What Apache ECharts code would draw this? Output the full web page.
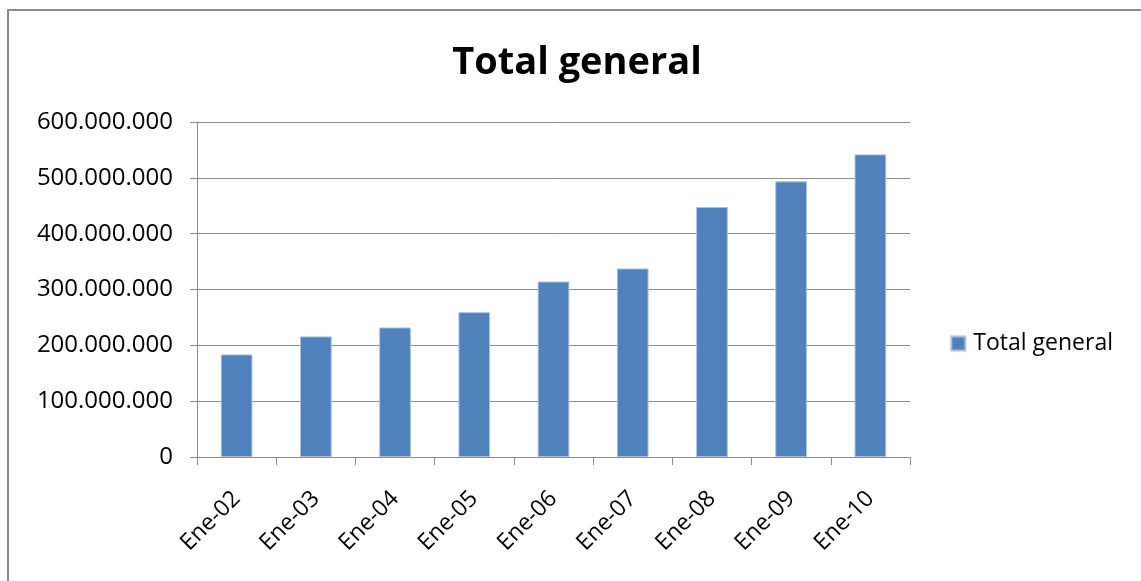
<!DOCTYPE html>
<html>
<head>
<meta charset="utf-8">
<script src="https://cdn.jsdelivr.net/npm/echarts@6/dist/echarts.min.js"></script>
<style>html,body{margin:0;padding:0;background:#fff}#c{width:1141px;height:581px}</style>
</head>
<body>
<div id="c"></div>
<script>
const categories = ['Ene-02','Ene-03','Ene-04','Ene-05','Ene-06','Ene-07','Ene-08','Ene-09','Ene-10'];
const totalGeneral = [183700000, 216000000, 232000000, 259400000, 314300000, 337600000, 447800000, 493700000, 542000000];
const seriesName = 'Total general';
const titleText = 'Total general';

const fontFam = '"Open Sans", "Noto Sans", sans-serif';
function fmt(v){ return String(Math.round(v)).replace(/\B(?=(\d{3})+(?!\d))/g, '.'); }

const chart = echarts.init(document.getElementById('c'), null, {renderer:'canvas'});
chart.setOption({
  backgroundColor:'#fff',
  animation:false,
  title:{ text:titleText, left:572, textAlign:'center', top:39,
    textStyle:{ fontFamily:fontFam, fontWeight:'bold', fontSize:38, color:'#000' } },
  legend:{ right:23, top:327, orient:'vertical', itemWidth:14, itemHeight:14, itemGap:8,
    icon:'rect', textStyle:{ fontFamily:fontFam, fontSize:23, color:'#000', padding:[0,0,0,3] }, data:[seriesName] },
  grid:{ left:197, right:231, top:122, bottom:124, containLabel:false },
  xAxis:{ type:'category', data:categories, boundaryGap:true,
    axisLine:{ lineStyle:{ color:'#8c8c8c', width:1 } },
    axisTick:{ show:true, length:8, alignWithLabel:false, lineStyle:{ color:'#8c8c8c' } },
    axisLabel:{ rotate:45, margin:38, fontFamily:fontFam, fontSize:23, color:'#000' } },
  yAxis:{ type:'value', min:0, max:600000000, interval:100000000,
    axisLine:{ show:true, lineStyle:{ color:'#8c8c8c', width:1 } },
    axisTick:{ show:true, length:7, lineStyle:{ color:'#8c8c8c' } },
    splitLine:{ lineStyle:{ color:'#8c8c8c', width:1 } },
    axisLabel:{ formatter:fmt, margin:24, fontFamily:fontFam, fontSize:24, color:'#000' } },
  series:[{ name:seriesName, type:'bar', data:totalGeneral, barWidth:'40%',
    itemStyle:{ color:'#4F81BD', borderColor:'#a9c0e0', borderWidth:1 } }],
  graphic:[{ type:'rect', shape:{ x:8, y:10, width:1145, height:585 }, silent:true, z:-1,
    style:{ fill:null, stroke:'#8a8a8a', lineWidth:2 } }]
});
</script>
</body>
</html>
